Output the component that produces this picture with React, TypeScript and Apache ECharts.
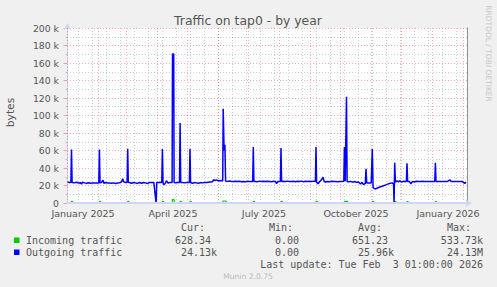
import React, { useEffect, useRef } from "react";
import * as echarts from "echarts";

// ---- axis / grid positions (days since 1 Jan 2025) ----
const monthStartDays = [0, 31, 59, 90, 120, 151, 181, 212, 243, 273, 304, 334, 365, 396];
const minorGridDays = [11, 25, 39, 53, 67, 81, 95, 109, 123, 137, 151, 165, 179, 193, 207, 221, 235, 249, 263, 277, 291, 305, 319, 333, 347, 361, 375, 389];
const xLabelDays = [15.5, 105.5, 196.5, 288.5, 380.5];
const xLabels = ["January 2025", "April 2025", "July 2025", "October 2025", "January 2026"];

// ---- Outgoing traffic (bytes, in thousands) ----
const outDays = [
  0, 2, 3.4, 4.0, 4.6, 7, 9, 11, 13, 14, 15, 17, 19, 21, 23, 25, 27, 29,
  31.3, 31.9, 32.5, 34, 35.5, 36.5, 38, 40, 42, 44, 46, 48, 50, 52, 54, 55.2, 56.2, 58,
  59.6, 60.2, 60.8, 62, 64, 66, 68, 70, 72, 74, 76, 78, 80, 82, 84, 86.3, 88.6, 89.2,
  91, 93, 94.3, 94.9, 95.5, 96.5, 98, 99, 100.5, 102, 104.6, 105, 106.2, 106.6, 108, 110,
  112, 112.6, 113.2, 115, 117, 119, 121.9, 122.5, 123.1, 125, 127, 129, 131, 133, 135, 137,
  139, 141, 143, 145, 146, 147.5, 149, 150.5, 152, 154, 155.2, 155.7, 156.6, 157.4, 158.1,
  160, 162, 164, 166, 168, 170, 172, 174, 176, 178, 180, 182, 185.2, 185.8, 186.4, 188, 190,
  192, 194, 196, 198, 200, 202, 204, 206, 208, 209, 210.5, 212.9, 213.5, 214.1, 216, 218, 220,
  222, 224, 226, 228, 230, 232, 234, 236, 238, 240, 242, 244, 246, 247.9, 248.5, 249.1, 250.5,
  252.5, 254, 255.5, 256.7, 258, 260, 262, 264, 266, 268, 270, 272, 274, 276.3, 276.9, 277.7,
  278.4, 279.0, 279.6, 281, 283, 285, 287, 289, 291, 293, 294.5, 296, 297.8, 298.5, 299.2, 301,
  303.7, 304.8, 305.6, 307.5, 310, 313, 316, 319, 322, 324.5, 326.0, 326.6, 327.2, 327.9, 329.5,
  331, 332.5, 334, 336, 338.9, 339.5, 340.1, 342, 343.5, 345, 347, 349, 351, 353, 355, 357, 359,
  361, 363, 365, 367.3, 367.9, 368.5, 371, 374, 377, 380, 382.5, 383.5, 386, 389, 392, 395, 397.2, 398.5,
];
const outgoingK = [
  24.0, 23.5, 23.5, 61.0, 23.5, 23.0, 23.8, 22.8, 23.2, 21.6, 23.8, 23.0, 22.6, 23.2, 22.5, 23.0, 22.8, 23.0,
  23.0, 61.0, 23.0, 23.5, 26.0, 22.4, 23.5, 22.8, 23.0, 22.5, 23.0, 22.4, 22.8, 23.2, 24.0, 27.6, 24.2, 23.5,
  23.5, 62.0, 23.8, 23.5, 22.6, 23.5, 23.0, 22.4, 23.5, 22.6, 23.5, 23.0, 22.2, 23.5, 23.5, 23.5, 0, 23.5,
  23.5, 23.8, 23.5, 61.7, 23.0, 20.9, 23.0, 25.5, 22.8, 23.5, 23.5, 170.3, 170.3, 23.5, 23.0, 23.5,
  23.5, 91.4, 23.5, 23.5, 23.0, 23.5, 23.5, 62.0, 23.5, 22.6, 23.3, 23.0, 22.5, 23.3, 23.0, 23.5,
  23.5, 23.8, 24.0, 24.2, 26.6, 25.5, 26.4, 25.4, 25.5, 25.6, 25.5, 107.8, 60.0, 66.6, 25.0,
  24.7, 25.2, 24.7, 24.5, 24.8, 24.5, 24.8, 24.3, 24.7, 24.4, 24.8, 24.6, 24.7, 64.0, 24.7, 24.7, 24.4,
  25.0, 24.6, 24.8, 24.5, 24.9, 24.7, 24.4, 24.8, 24.7, 22.2, 24.5, 24.5, 62.8, 24.5, 24.8, 24.5, 25.0,
  24.6, 24.6, 24.9, 24.3, 24.8, 24.6, 25.0, 24.4, 24.8, 24.6, 24.9, 24.7, 25.0, 24.7, 64.0, 24.0, 22.0,
  24.8, 26.5, 29.5, 24.5, 24.0, 24.6, 24.2, 24.8, 24.5, 24.7, 24.4, 24.7, 24.6, 24.8, 64.0, 25.0,
  25.0, 121.5, 24.5, 24.2, 24.7, 23.8, 24.5, 23.6, 24.0, 21.8, 23.6, 20.9, 22.5, 39.0, 22.8, 23.0,
  23.0, 61.7, 17.5, 16.0, 17.2, 18.6, 19.8, 21.0, 22.4, 23.0, 22.0, 0, 46.0, 24.0, 25.2,
  24.2, 25.5, 23.8, 24.8, 24.6, 45.5, 24.6, 24.5, 22.0, 24.7, 24.0, 24.8, 24.6, 24.6, 24.8, 24.6, 24.7,
  24.6, 24.7, 24.6, 24.6, 46.0, 24.6, 24.6, 24.6, 24.6, 24.6, 26.5, 24.6, 24.6, 24.6, 24.6, 24.5, 22.4, 24.1,
];

// ---- Incoming traffic (bytes, in thousands) ----
const inDays = [
  0, 3.5, 4, 5, 5.4, 31.5, 32, 33, 33.4, 59.8, 60.3, 61.3, 61.7, 94.6, 95, 96, 96.4,
  104.6, 105, 106.5, 107, 112.3, 112.7, 113.7, 114, 122.2, 122.6, 123.6, 124,
  155, 155.5, 158.5, 159, 185.4, 185.8, 186.8, 187.2, 213.2, 213.6, 214.6, 215,
  248.2, 248.6, 249.6, 250, 276.5, 277, 280, 280.4, 304.5, 304.9, 305.9, 306.3,
  327, 327.4, 328.4, 328.8, 339.2, 339.6, 340.6, 341, 367.5, 367.9, 368.9, 369.3, 398.5,
];
const incomingK = [
  0, 0, 1.8, 1.8, 0, 0, 1.8, 1.8, 0, 0, 1.8, 1.8, 0, 0, 1.8, 1.8, 0,
  0, 3.8, 3.8, 0, 0, 1.8, 1.8, 0, 0, 1.8, 1.8, 0,
  0, 2.3, 2.3, 0, 0, 1.8, 1.8, 0, 0, 1.8, 1.8, 0,
  0, 1.8, 1.8, 0, 0, 1.8, 1.8, 0, 0, 1.8, 1.8, 0,
  0, 1.5, 1.5, 0, 0, 1.5, 1.5, 0, 0, 1.5, 1.5, 0, 0,
];

// ---- legend table ----
const legendHeaders = ["Cur:", "Min:", "Avg:", "Max:"];
const incomingStats = ["628.34", "0.00", "651.23", "533.73k"];
const outgoingStats = ["24.13k", "0.00", "25.96k", "24.13M"];

const TEXT = "#555555";
const SANS = "DejaVu Sans";
const MONO = "DejaVu Sans Mono";

export default function App() {
  const ref = useRef<HTMLDivElement>(null);

  useEffect(() => {
    document.body.style.margin = "0";
    if (!ref.current) return;
    const chart = echarts.init(ref.current, null, { renderer: "svg" });

    const redGrid = { color: "rgba(255,0,0,0.32)", type: [1, 2], width: 1 };
    const greyGrid = { color: "rgba(128,128,128,0.38)", type: [1, 2], width: 1 };

    const headerX = [181, 269, 358, 447];
    const row1Right = [211, 299, 388, 483];
    const row2Right = [217, 299, 394, 483];

    const graphics: any[] = [
      {
        type: "text", x: 248, y: 20.7,
        style: { text: "Traffic on tap0 - by year", fill: TEXT, font: `12.4px '${SANS}'`, align: "center", verticalAlign: "middle" },
      },
      {
        type: "text", x: 10.5, y: 112.5, rotation: Math.PI / 2,
        style: { text: "bytes", fill: TEXT, font: `10.7px '${SANS}'`, align: "center", verticalAlign: "middle" },
      },
      {
        type: "text", x: 488, y: 53.5, rotation: -Math.PI / 2,
        style: { text: "RRDTOOL / TOBI OETIKER", fill: "#c8c8c8", font: `7.5px '${SANS}'`, align: "center", verticalAlign: "middle" },
      },
      { type: "rect", shape: { x: 14, y: 237.5, width: 5.5, height: 5.5 }, style: { fill: "#00CC00" } },
      { type: "rect", shape: { x: 14, y: 249.5, width: 5.5, height: 5.5 }, style: { fill: "#0000FF" } },
      {
        type: "text", x: 26, y: 240,
        style: { text: "Incoming traffic", fill: TEXT, font: `10px '${MONO}'`, align: "left", verticalAlign: "middle" },
      },
      {
        type: "text", x: 26, y: 252,
        style: { text: "Outgoing traffic", fill: TEXT, font: `10px '${MONO}'`, align: "left", verticalAlign: "middle" },
      },
      {
        type: "text", x: 483, y: 264,
        style: { text: "Last update: Tue Feb  3 01:00:00 2026", fill: TEXT, font: `10px '${MONO}'`, align: "right", verticalAlign: "middle" },
      },
      {
        type: "text", x: 248, y: 276,
        style: { text: "Munin 2.0.75", fill: "#bbbbbb", font: `7.6px '${SANS}'`, align: "center", verticalAlign: "middle" },
      },
    ];
    legendHeaders.forEach((h, i) => {
      graphics.push({
        type: "text", x: headerX[i], y: 227,
        style: { text: h, fill: TEXT, font: `10px '${MONO}'`, align: "left", verticalAlign: "middle" },
      });
      graphics.push({
        type: "text", x: row1Right[i], y: 240,
        style: { text: incomingStats[i], fill: TEXT, font: `10px '${MONO}'`, align: "right", verticalAlign: "middle" },
      });
      graphics.push({
        type: "text", x: row2Right[i], y: 252,
        style: { text: outgoingStats[i], fill: TEXT, font: `10px '${MONO}'`, align: "right", verticalAlign: "middle" },
      });
    });

    const option: any = {
      animation: false,
      backgroundColor: "#F0F0F0",
      textStyle: { fontFamily: SANS },
      grid: { left: 67, top: 28, width: 400, height: 175, show: true, backgroundColor: "#FFFFFF", borderWidth: 0 },
      xAxis: [
        {
          type: "value", min: -0.5, max: 399.5, z: 5,
          axisLine: {
            show: true, onZero: false,
            lineStyle: { color: "#CFD6F8", width: 2 },
            symbol: ["none", "arrow"], symbolSize: [6, 7], symbolOffset: [0, 5],
          },
          axisTick: { show: false },
          splitLine: { show: false },
          axisLabel: {
            customValues: xLabelDays,
            formatter: (v: number) => {
              const i = xLabelDays.indexOf(v);
              return i >= 0 ? xLabels[i] : "";
            },
            color: TEXT, fontSize: 9.5, margin: 5, fontFamily: SANS,
          },
        },
      ],
      yAxis: [
        {
          type: "value", min: 0, max: 200, interval: 20,
          axisLine: {
            show: true,
            lineStyle: { color: "#CFD6F8", width: 1 },
            symbol: ["none", "arrow"], symbolSize: [6, 7], symbolOffset: [0, 5],
          },
          axisTick: { show: true, length: 4, lineStyle: { color: "rgba(255,0,0,0.35)" } },
          minorTick: { show: true, splitNumber: 2, length: 2, lineStyle: { color: "rgba(128,128,128,0.4)" } },
          splitLine: { show: true, lineStyle: redGrid },
          minorSplitLine: { show: true, lineStyle: greyGrid },
          axisLabel: {
            formatter: (v: number) => (v === 0 ? "0" : `${v} k`),
            color: TEXT, fontSize: 9.3, margin: 8, fontFamily: SANS,
          },
        },
        {
          type: "value", position: "right", min: 0, max: 200,
          axisLine: { show: true, lineStyle: { color: "#909090", width: 1 } },
          axisTick: { show: false }, axisLabel: { show: false }, splitLine: { show: false },
        },
      ],
      series: [
        {
          type: "line", name: "grid", data: [], z: 1, silent: true,
          markLine: {
            z: 1, silent: true, symbol: ["none", "none"], label: { show: false }, animation: false,
            data: [
              ...minorGridDays.map((d) => ({ xAxis: d, lineStyle: greyGrid })),
              ...monthStartDays.map((d) => ({ xAxis: d, lineStyle: redGrid })),
            ],
          },
        },
        {
          type: "line", name: "Incoming traffic", z: 2,
          data: inDays.map((d, i) => [d, incomingK[i]]),
          showSymbol: false, symbol: "none",
          lineStyle: { color: "#00CC00", width: 1.2 },
        },
        {
          type: "line", name: "Outgoing traffic", z: 2,
          data: outDays.map((d, i) => [d, outgoingK[i]]),
          showSymbol: false, symbol: "none",
          lineStyle: { color: "#0000FF", width: 1.5 },
        },
      ],
      graphic: graphics,
    };

    chart.setOption(option);
    return () => chart.dispose();
  }, []);

  return <div ref={ref} style={{ width: 497, height: 287 }} />;
}
